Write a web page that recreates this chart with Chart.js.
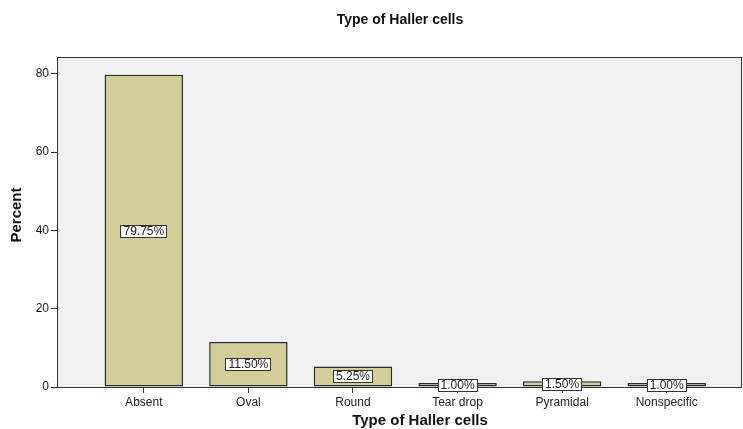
<!DOCTYPE html>
<html><head><meta charset="utf-8">
<script src="https://cdn.jsdelivr.net/npm/chart.js@4/dist/chart.umd.min.js"></script>
<style>html,body{margin:0;padding:0;background:#fff}#wrap{width:743px;height:429px}</style>
</head><body><div id="wrap"><canvas id="c" width="743" height="429"></canvas></div>
<script>
const categories = ["Absent","Oval","Round","Tear drop","Pyramidal","Nonspecific"];
const percents = [79.75, 11.50, 5.25, 1.00, 1.50, 1.00];
const yTicks = [0,20,40,60,80];
const chartTitle = "Type of Haller cells";
const xTitle = "Type of Haller cells";
const yTitle = "Percent";

const FONT = "'Liberation Sans', Arial, sans-serif";

const decor = {
  id:'decor',
  beforeDatasetsDraw(chart){
    const {ctx, chartArea:a} = chart;
    ctx.save();
    ctx.fillStyle = '#f0f0f0';
    ctx.fillRect(a.left, a.top, a.right-a.left, a.bottom-a.top);
    ctx.restore();
  },
  afterDatasetsDraw(chart){
    const {ctx, chartArea:a} = chart;
    ctx.save();
    ctx.strokeStyle = '#333';
    ctx.lineWidth = 1;
    ctx.strokeRect(a.left+0.5, a.top+0.5, a.right-a.left-1, a.bottom-a.top);
    // data labels
    const meta = chart.getDatasetMeta(0);
    ctx.font = '12px ' + FONT;
    ctx.textAlign = 'center';
    ctx.textBaseline = 'middle';
    meta.data.forEach((bar, i) => {
      const txt = percents[i].toFixed(2) + '%';
      const cy = Math.round((bar.y + bar.base)/2);
      const w = Math.round(ctx.measureText(txt).width + 6);
      const h = 13;
      const x0 = Math.round(bar.x - w/2);
      ctx.fillStyle = '#fff';
      ctx.fillRect(x0, cy - 6, w, h);
      ctx.strokeStyle = '#333';
      ctx.strokeRect(x0+0.5, cy - 5.5, w-1, h-1);
      ctx.fillStyle = '#222';
      ctx.fillText(txt, bar.x, cy+1);
    });
    // titles
    ctx.fillStyle = '#111';
    ctx.font = 'bold 14px ' + FONT;
    ctx.textBaseline = 'middle';
    ctx.fillText(chartTitle, 400, 20);
    ctx.font = 'bold 15px ' + FONT;
    ctx.fillText(xTitle, 420, 421);
    ctx.save();
    ctx.translate(17, 215);
    ctx.rotate(-Math.PI/2);
    ctx.font = 'bold 15px ' + FONT;
    ctx.fillText(yTitle, 0, 0);
    ctx.restore();
    ctx.restore();
  }
};

new Chart(document.getElementById('c'), {
  type: 'bar',
  data: {
    datasets: [{
      data: percents.map((v,i)=>({x:i, y:v})),
      backgroundColor: '#d3ce97',
      borderColor: '#2b2b2b',
      borderWidth: 1.5,
      borderSkipped: false,
      barPercentage: 0.75,
      categoryPercentage: 1.0
    }]
  },
  options: {
    responsive: false,
    animation: false,
    layout: { padding: { top: 57, right: 1, left: 0, bottom: 0 } },
    plugins: { legend: {display:false}, tooltip: {enabled:false}, title: {display:false} },
    scales: {
      x: {
        type: 'linear',
        offset: false,
        min: -0.83, max: 5.72,
        afterBuildTicks(s){ s.ticks = categories.map((c,i)=>({value:i})); },
        afterFit(s){ s.height = 42; },
        border: { display: false },
        grid: { drawOnChartArea:false, drawTicks:true, tickLength:6, color:'#333', offset:false },
        ticks: { callback:(v)=>categories[v] ?? '', font:{size:12, family:FONT}, color:'#222', padding:2, maxRotation:0, autoSkip:false }
      },
      y: {
        min: 0, max: 84.3,
        afterBuildTicks(s){ s.ticks = yTicks.map(v=>({value:v})); },
        afterFit(s){ s.width = 57; },
        border: { display: false },
        grid: { drawOnChartArea:false, drawTicks:true, tickLength:6, color:'#333' },
        ticks: { font:{size:12, family:FONT}, color:'#222', padding:2 }
      }
    }
  },
  plugins: [decor]
});
</script></body></html>
